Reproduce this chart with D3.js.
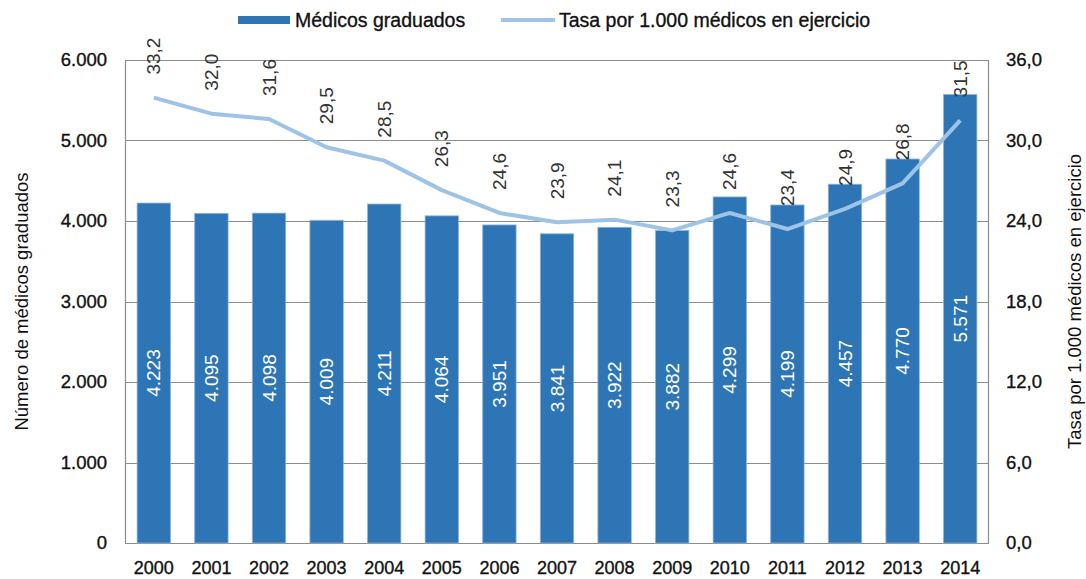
<!DOCTYPE html>
<html>
<head>
<meta charset="utf-8">
<script src="https://cdn.jsdelivr.net/npm/d3@7/dist/d3.min.js"></script>
<style>
  body { margin: 0; background: #fff; }
  svg text { font-family: "Liberation Sans", Arial, Helvetica, sans-serif; }
  .med { stroke: #111; stroke-width: 0.35px; }
</style>
</head>
<body>
<div id="chart"></div>
<script>
// data
var years = ["2000","2001","2002","2003","2004","2005","2006","2007","2008","2009","2010","2011","2012","2013","2014"];
var graduados = [4223, 4095, 4098, 4009, 4211, 4064, 3951, 3841, 3922, 3882, 4299, 4199, 4457, 4770, 5571];
var tasa = [33.2, 32.0, 31.6, 29.5, 28.5, 26.3, 24.6, 23.9, 24.1, 23.3, 24.6, 23.4, 24.9, 26.8, 31.5];
var leftTicks = [0, 1000, 2000, 3000, 4000, 5000, 6000];
var rightTicks = [0, 6, 12, 18, 24, 30, 36];

var W = 1086, H = 579;
var m = {left: 125, right: 97, top: 60, bottom: 36};
var w = W - m.left - m.right, h = H - m.top - m.bottom;

var barColor = "#2E75B6", lineColor = "#9DC3E6", gridColor = "#8c8c8c";

var fmtInt = function (v) { return d3.format(",")(v).replace(/,/g, "."); };
var fmtDec = function (v) { return v.toFixed(1).replace(".", ","); };

var svg = d3.select("#chart").append("svg")
    .attr("width", W)
    .attr("height", H);

var g = svg.append("g").attr("transform", "translate(" + m.left + "," + m.top + ")");

var x = d3.scaleBand().domain(years).range([0, w]).paddingInner(0.42).paddingOuter(0.21);
var yL = d3.scaleLinear().domain([0, 6000]).range([h, 0]);
var yR = d3.scaleLinear().domain([0, 36]).range([h, 0]);

// gridlines
g.append("g").selectAll("line.grid")
    .data(leftTicks).enter().append("line")
    .attr("class", "grid")
    .attr("x1", 0).attr("x2", w)
    .attr("y1", function (d) { return Math.round(yL(d)) + 0.5; })
    .attr("y2", function (d) { return Math.round(yL(d)) + 0.5; })
    .attr("stroke", gridColor).attr("stroke-width", 1.2);

// side borders
g.append("line").attr("x1", 0.5).attr("x2", 0.5).attr("y1", 0).attr("y2", h)
    .attr("stroke", gridColor).attr("stroke-width", 1.2);
g.append("line").attr("x1", w - 0.5).attr("x2", w - 0.5).attr("y1", 0).attr("y2", h)
    .attr("stroke", gridColor).attr("stroke-width", 1.2);

// bars
g.selectAll("rect.bar")
    .data(graduados).enter().append("rect")
    .attr("class", "bar")
    .attr("x", function (d, i) { return x(years[i]); })
    .attr("y", function (d) { return yL(d); })
    .attr("width", x.bandwidth())
    .attr("height", function (d) { return h - yL(d); })
    .attr("fill", barColor)
    .attr("stroke", "#8fb5dd")
    .attr("stroke-width", 0.8);

// bar labels (rotated, centred in bar)
g.selectAll("text.barlab")
    .data(graduados).enter().append("text")
    .attr("class", "barlab")
    .attr("transform", function (d, i) {
        var cx = x(years[i]) + x.bandwidth() / 2;
        var cy = (yL(d) + h) / 2;
        return "translate(" + cx + "," + cy + ") rotate(-90)";
    })
    .attr("text-anchor", "middle")
    .attr("dy", "0.35em")
    .attr("fill", "#fff")
    .attr("font-size", 19)
    .text(fmtInt);

// line
var line = d3.line()
    .x(function (d, i) { return x(years[i]) + x.bandwidth() / 2; })
    .y(function (d) { return yR(d); });

g.append("path")
    .datum(tasa)
    .attr("d", line)
    .attr("fill", "none")
    .attr("stroke", lineColor)
    .attr("stroke-width", 4)
    .attr("stroke-linejoin", "round");

// line labels
g.selectAll("text.linelab")
    .data(tasa).enter().append("text")
    .attr("class", "linelab")
    .attr("transform", function (d, i) {
        var cx = x(years[i]) + x.bandwidth() / 2;
        return "translate(" + cx + "," + (yR(d) - 23) + ") rotate(-90)";
    })
    .attr("text-anchor", "start")
    .attr("dy", "0.35em")
    .attr("fill", "#333")
    .attr("font-size", 19)
    .text(fmtDec);

// left axis labels
g.selectAll("text.ltick")
    .data(leftTicks).enter().append("text")
    .attr("class", "ltick med")
    .attr("x", -18)
    .attr("y", function (d) { return yL(d); })
    .attr("dy", "0.35em")
    .attr("text-anchor", "end")
    .attr("font-size", 18.5)
    .attr("fill", "#111")
    .text(fmtInt);

// right axis labels
g.selectAll("text.rtick")
    .data(rightTicks).enter().append("text")
    .attr("class", "rtick med")
    .attr("x", w + 17)
    .attr("y", function (d) { return yR(d); })
    .attr("dy", "0.35em")
    .attr("text-anchor", "start")
    .attr("font-size", 18.5)
    .attr("fill", "#111")
    .text(fmtDec);

// x labels
g.selectAll("text.xlab")
    .data(years).enter().append("text")
    .attr("class", "xlab med")
    .attr("x", function (d) { return x(d) + x.bandwidth() / 2; })
    .attr("y", h + 31)
    .attr("text-anchor", "middle")
    .attr("font-size", 18)
    .attr("fill", "#111")
    .text(function (d) { return d; });

// axis titles
svg.append("text")
    .attr("transform", "translate(22," + (m.top + h / 2) + ") rotate(-90)")
    .attr("text-anchor", "middle")
    .attr("dy", "0.35em")
    .attr("font-size", 18.5)
    .attr("fill", "#111")
    .text("Número de médicos graduados");

svg.append("text")
    .attr("transform", "translate(1075," + (m.top + h / 2) + ") rotate(-90)")
    .attr("text-anchor", "middle")
    .attr("dy", "0.35em")
    .attr("font-size", 18.5)
    .attr("fill", "#111")
    .text("Tasa por 1.000 médicos en ejercicio");

// legend
var lg = svg.append("g");
lg.append("rect").attr("x", 238).attr("y", 16).attr("width", 52).attr("height", 8).attr("fill", barColor);
lg.append("text").attr("class", "med").attr("x", 295).attr("y", 27).attr("font-size", 19.5).attr("fill", "#111").text("Médicos graduados");
lg.append("line").attr("x1", 501).attr("x2", 555).attr("y1", 20).attr("y2", 20)
    .attr("stroke", lineColor).attr("stroke-width", 4);
lg.append("text").attr("class", "med").attr("x", 559).attr("y", 27).attr("font-size", 19.5).attr("fill", "#111").text("Tasa por 1.000 médicos en ejercicio");
</script>
</body>
</html>
